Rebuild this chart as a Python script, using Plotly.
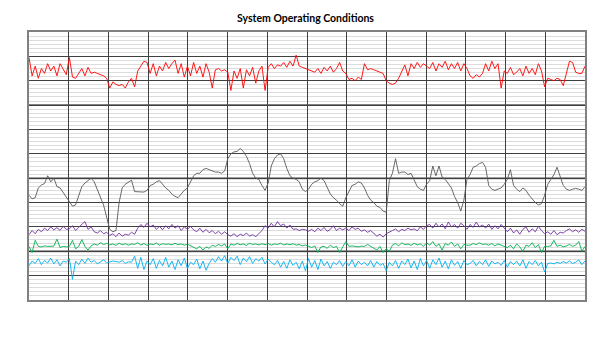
import plotly.graph_objects as go

title_text = "System Operating Conditions"

red_vals = [9.95, 9.2, 9.6, 9.1, 9.5, 9.3, 9.7, 9.4, 9.6, 9.2, 9.7, 9.5, 9.25,
            9.95, 9.15, 9.1, 9.3, 9.5, 9.2, 9.55, 9.3,
            9.35, 9.3, 9.25, 9.2, 9.1,
            8.7, 8.95, 8.85, 8.8, 8.85, 8.7,
            8.95, 9.1, 8.75, 9.4, 9.6,
            9.8, 9.75,
            9.3, 9.7, 9.2, 9.6, 9.4, 9.75, 9.5, 9.7, 9.85,
            9.3, 9.7, 9.15, 9.6, 9.2, 9.75, 9.3, 9.6, 9.15, 9.7, 9.35,
            8.7, 9.45, 9.5, 9.4, 9.45, 9.35,
            8.6, 9.4, 9.1, 9.5, 8.7, 9.45, 9.2, 9.55, 8.9, 9.4, 9.6, 8.6, 9.55,
            9.7, 9.5, 9.65, 9.6, 9.75, 9.55, 9.8, 9.6, 10.05,
            9.6, 9.55, 9.5, 9.45, 9.4,
            9.35, 9.5, 9.3, 9.55, 9.4, 9.6, 9.35, 9.5, 9.75, 9.4, 9.3,
            9.05, 9.1, 9.0, 9.15, 9.05,
            9.7, 9.45, 9.5, 9.45, 9.4, 9.35, 9.3,
            9.0, 8.9, 8.85, 8.9, 9.1,
            9.4, 9.65, 9.2, 9.7, 9.5, 9.75, 9.55, 9.7, 9.6,
            9.5, 9.75, 9.4, 9.7, 9.55, 9.8, 9.45, 9.7, 9.5, 9.75, 9.4, 9.7, 9.5,
            9.2, 9.1, 9.25, 9.15, 9.3,
            9.7, 9.4, 9.8, 9.5, 9.7, 8.7,
            9.4, 9.3, 9.55, 9.25, 9.35, 9.5, 9.2, 9.6, 9.3, 9.5, 9.25, 9.7, 9.4,
            8.75, 9.1, 9.05, 9.0, 9.1, 9.05, 8.8,
            9.3, 9.8, 9.75,
            9.35, 9.3, 9.3, 9.6]

black_vals = [4.30, 4.15, 4.2, 4.6, 4.72, 4.78, 5.1, 4.85, 5.0, 4.65,
              4.6, 4.4, 4.2, 4.05, 3.85, 3.9, 4.3, 4.65, 4.8, 4.9,
              5.0, 4.85, 4.55, 4.2, 3.9, 3.4, 2.9, 2.8, 2.85, 4.0,
              4.6, 4.75, 4.85, 4.92, 4.45, 4.44, 4.46, 4.43, 4.5, 4.7,
              4.75, 4.85, 4.9, 4.75, 4.6, 4.5, 4.35, 4.25, 4.2, 4.35,
              4.5, 4.6, 4.85, 5.1, 5.2, 5.2, 5.35, 5.4, 5.35, 5.3,
              5.25, 5.25, 5.2, 5.3, 5.8, 6.0, 6.08, 6.1, 6.22, 6.1,
              5.9, 5.6, 5.2, 5.0, 4.95, 4.7, 4.5, 4.8, 5.5, 5.8,
              5.95, 6.0, 5.8, 5.4, 5.1, 5.0, 4.95, 4.85, 4.55, 4.45,
              4.55, 4.75, 4.85, 4.9, 5.0, 4.9, 4.6, 4.35, 4.2, 4.1,
              3.95, 3.85, 4.2, 4.45, 4.7, 4.75, 4.85, 4.8, 4.6, 4.3,
              4.1, 4.0, 3.85, 3.8, 3.65, 3.6, 4.9, 5.2, 5.8, 5.2,
              5.25, 5.25, 5.15, 5.2, 4.9, 4.65, 4.55, 4.5, 4.75, 4.9,
              5.5, 5.1, 5.5, 5.05, 4.95, 4.75, 4.6, 4.25, 4.0, 3.65,
              4.1, 4.95, 5.15, 5.45, 5.5, 5.6, 5.65, 5.45, 4.7, 4.55,
              4.5, 4.55, 4.6, 4.75, 4.95, 5.35, 4.7, 4.55, 4.45, 4.6,
              4.5, 4.3, 4.15, 4.0, 3.9, 3.95, 4.3, 4.75, 4.95, 5.15,
              5.45, 5.05, 4.7, 4.55, 4.5, 4.55, 4.58, 4.55, 4.5, 4.65]

purple_vals = [2.68, 2.85, 2.72, 2.9, 2.8,
               2.95, 2.85, 3.0, 2.88, 2.97, 2.86, 3.02, 2.9,
               2.92, 3.05, 2.85, 2.98, 3.1, 3.22, 2.9, 3.0,
               2.8, 2.75, 2.85, 2.72, 2.78,
               2.65, 2.72, 2.6, 2.75, 2.62, 2.7, 2.66, 2.78, 2.7,
               2.95, 3.1, 2.98, 3.15, 3.0, 3.08,
               2.9, 3.02, 2.88, 3.05, 2.92, 3.1, 2.95, 3.05, 2.85, 3.0, 2.9, 3.02,
               2.88, 2.8, 2.95, 2.78, 2.9, 2.76, 2.85, 2.72, 2.82, 2.7, 2.8, 2.68,
               2.62, 2.72, 2.6, 2.7, 2.64, 2.75, 2.62, 2.68, 2.6, 2.72, 2.85,
               3.05, 2.95, 3.15, 3.0, 3.22, 3.05, 3.12, 2.95, 3.08, 2.9,
               2.92, 2.85, 2.9, 2.88, 2.82,
               2.9, 2.8, 2.95, 2.85, 2.98, 2.82, 2.9, 3.05, 2.85, 2.95, 2.88,
               2.95, 2.85, 3.0, 2.9, 2.95, 2.82, 2.88, 2.78, 2.85, 2.75,
               2.62, 2.7, 2.58, 2.72, 2.8,
               2.85, 2.92, 2.8, 2.9, 2.85, 2.95, 2.88, 2.92, 2.84, 3.0, 2.9, 3.05,
               3.1, 2.95, 3.15, 3.0, 3.12, 2.92, 3.2, 3.0, 3.1, 2.95, 3.15, 3.05, 2.9,
               3.1, 2.98, 3.2, 3.0, 3.08, 2.95, 3.12, 2.9, 3.05, 2.92, 3.1, 2.95,
               2.8, 2.95, 2.75, 2.88, 2.7, 2.9, 3.0, 2.78, 2.92, 2.8, 3.02, 2.85,
               2.72, 2.8, 2.7, 2.85, 2.68, 2.78, 2.75,
               2.85, 2.92, 2.8, 2.88, 2.78, 2.9, 2.82]

green_vals = [2.2, 1.95, 2.45, 2.2, 2.18, 2.22, 2.2, 2.19, 2.21, 2.5, 2.15, 2.2, 2.18,
              2.2, 2.45, 2.1, 2.2, 2.48, 2.2, 2.05, 2.22,
              2.3, 2.25, 2.35, 2.28, 2.32, 2.26, 2.3, 2.24, 2.33, 2.27, 2.31, 2.25,
              2.3, 2.28, 2.35, 2.26, 2.32, 2.24, 2.3, 2.27, 2.34, 2.25, 2.31, 2.28,
              2.3, 2.26, 2.33, 2.27, 2.3, 2.25, 2.29, 2.22,
              2.15, 2.1, 2.2, 2.05, 2.18, 2.12, 2.25, 2.2, 2.28, 2.22, 2.3, 2.1,
              2.3, 2.25, 2.32, 2.27, 2.3, 2.24, 2.33, 2.28, 2.3, 2.26, 2.31, 2.27, 2.32,
              2.25, 2.3, 2.28, 2.33, 2.26, 2.3, 2.27, 2.31, 2.25, 2.28, 2.22, 2.26, 2.2,
              2.15, 2.22, 1.95, 2.18, 2.2, 2.12, 2.25, 2.15, 2.2, 1.95, 2.2, 2.4,
              2.2, 2.22, 2.2, 2.18, 2.21, 2.2, 2.28, 2.2, 2.15, 2.05, 2.2, 1.95, 2.1, 2.0,
              2.25, 2.32, 2.22, 2.35, 2.27, 2.3, 2.24, 2.33, 2.26, 2.3, 2.2, 2.35, 2.25,
              2.4, 2.2, 2.3, 2.05, 2.32, 2.25, 2.38, 2.2, 2.3, 2.1, 2.28, 2.25,
              2.25, 2.32, 2.27, 2.35, 2.28, 2.3, 2.25, 2.32, 2.22, 2.3, 2.26, 2.2,
              2.15, 2.25, 2.1, 2.3, 2.18, 2.0, 2.25, 2.2, 2.35, 2.15, 2.28, 1.95,
              2.2, 2.2, 2.22, 2.45, 2.2, 2.25, 2.18, 2.22, 2.28, 2.2, 2.25, 2.4, 2.0, 2.2]

cyan_vals = [1.4, 1.6, 1.5, 1.7, 1.45, 1.62, 1.52, 1.72, 1.48, 1.65, 1.4, 1.6, 1.55, 1.7,
             0.85,
             1.6, 1.45, 1.68, 1.5, 1.72, 1.55, 1.62, 1.48, 1.58, 1.65, 1.52,
             1.55, 1.6, 1.58, 1.55, 1.62, 1.5, 1.57, 1.55,
             1.8, 1.3, 1.75, 1.25, 1.6,
             1.45, 1.7, 1.3, 1.62, 1.4, 1.75, 1.35, 1.6, 1.25, 1.65,
             1.4, 1.72, 1.3, 1.55, 1.45, 1.68, 1.28, 1.6, 1.22, 1.5,
             1.7, 1.55, 1.78, 1.6, 1.82, 1.5, 1.75, 1.62, 1.8, 1.45,
             1.72, 1.58, 1.78, 1.5, 1.7, 1.6, 1.75, 1.48, 1.68, 1.55,
             1.45, 1.62, 1.35, 1.58, 1.3, 1.65, 1.42, 1.55, 1.28, 1.6,
             1.2, 1.7, 1.35, 1.62, 1.25, 1.68, 1.4, 1.58, 1.3, 1.55,
             1.45, 1.62, 1.38, 1.58, 1.4, 1.65, 1.35, 1.6, 1.45, 1.55,
             1.4, 1.62, 1.35, 1.58, 1.42, 1.5, 1.2,
             1.55, 1.4, 1.62, 1.3, 1.6, 1.45, 1.68, 1.32, 1.6, 1.25, 1.7, 1.4, 1.62,
             1.3, 1.65, 1.45, 1.72, 1.35, 1.6, 1.28, 1.65, 1.42, 1.58, 1.3, 1.62, 1.45,
             1.5, 1.62, 1.4, 1.58, 1.45, 1.65, 1.38, 1.6, 1.48, 1.55, 1.42, 1.62,
             1.35, 1.58, 1.45, 1.6, 1.4, 1.65, 1.3, 1.58, 1.45, 1.62, 1.4, 1.55,
             1.15, 1.5, 1.52, 1.48, 1.55, 1.5, 1.58, 1.52, 1.6, 1.5, 1.55, 1.65, 1.45, 1.6]

samples = list(range(len(red_vals)))
n_columns = 14
n_rows = 11

series = [
    ("Series A", red_vals, "#FF0000"),
    ("Series B", black_vals, "#595959"),
    ("Series C", purple_vals, "#7030A0"),
    ("Series D", green_vals, "#00B050"),
    ("Series E", cyan_vals, "#00B0F0"),
]

fig = go.Figure()
for name, vals, color in series:
    fig.add_trace(go.Scatter(x=samples, y=vals, mode="lines", name=name,
                             line=dict(color=color, width=0.9), showlegend=False,
                             hoverinfo="skip"))

xmax = len(samples) - 1
col_step = xmax / n_columns

fig.update_xaxes(range=[0, xmax], tick0=0, dtick=col_step, showticklabels=False,
                 ticks="", showgrid=True, gridcolor="#404040", gridwidth=1,
                 zeroline=False, showline=True, linecolor="#808080", linewidth=2,
                 mirror=True)
fig.update_yaxes(range=[0, n_rows], tick0=0, dtick=1, showticklabels=False,
                 ticks="", showgrid=True, gridcolor="#404040", gridwidth=1,
                 zeroline=False, showline=True, linecolor="#808080", linewidth=2,
                 mirror=True,
                 minor=dict(dtick=1/6, showgrid=True, gridcolor="#DCDCDC", gridwidth=1))

for level in [2, 5, 8]:
    fig.add_shape(type="line", xref="x", yref="y", x0=0, x1=xmax, y0=level, y1=level,
                  line=dict(color="#7F7F7F", width=2), layer="below")

fig.update_layout(
    width=605, height=340,
    margin=dict(l=29, r=20, t=32, b=40),
    paper_bgcolor="white", plot_bgcolor="white",
    title=dict(text="<b>" + title_text + "</b>", x=0.505, xanchor="center",
               y=1 - 18 / 340, yanchor="middle", yref="container",
               font=dict(family="Lato", size=10.5, color="#000000")),
)

fig.write_html("out.html")
